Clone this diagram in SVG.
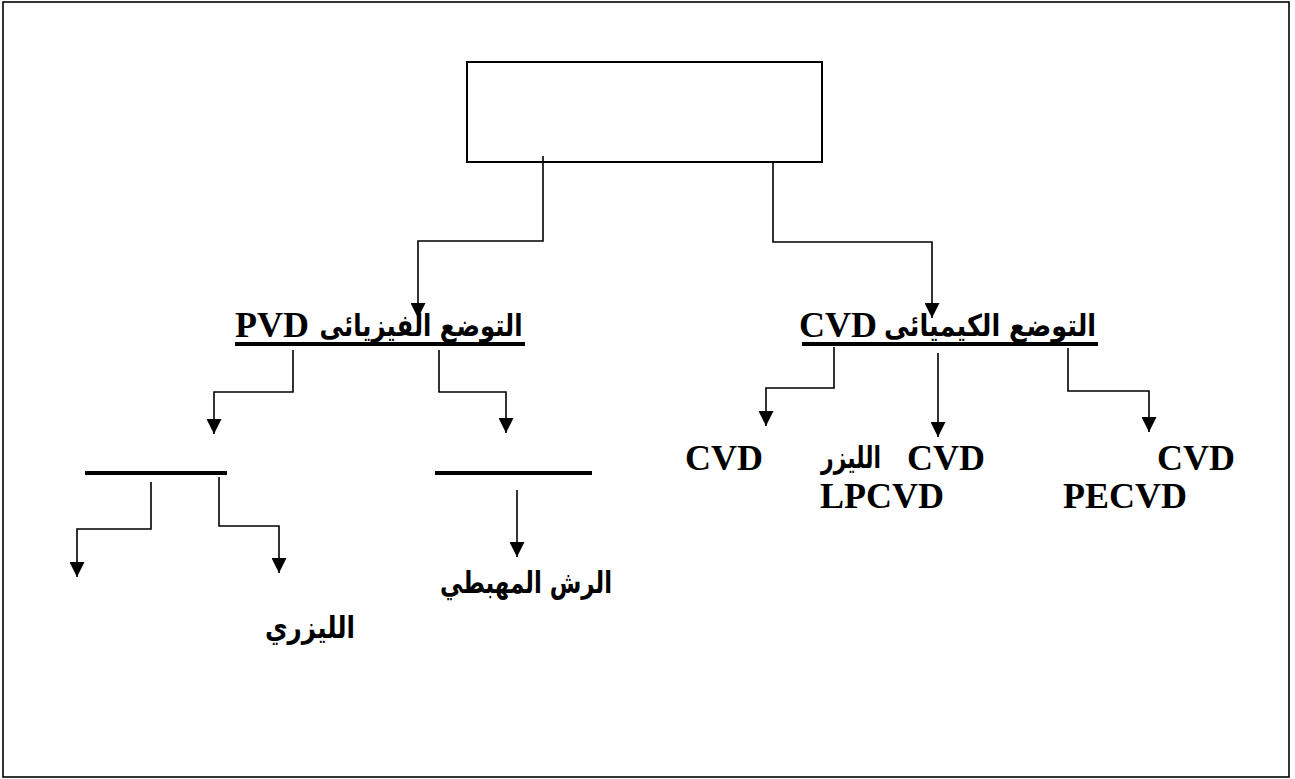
<svg xmlns="http://www.w3.org/2000/svg" width="1295" height="779" viewBox="0 0 1295 779">
<style>
.lat{font-family:"Liberation Serif","Times New Roman",serif;font-weight:bold;font-size:36px;fill:#000}
.ar{font-family:"DejaVu Sans","Liberation Serif",sans-serif;font-weight:bold;font-size:30px;fill:#000}
.con{fill:none;stroke:#000;stroke-width:1.6}
.bar{stroke:#000;stroke-width:4}
</style>
<defs>
<marker id="ah" viewBox="0 0 10 10" refX="10" refY="5" markerWidth="15" markerHeight="15" markerUnits="userSpaceOnUse" orient="auto">
<path d="M0,0 L10,5 L0,10 z" fill="#000"/>
</marker>
</defs>
<rect x="0" y="0" width="1295" height="779" fill="#fff"/>
<rect x="3" y="2" width="1286" height="775" fill="none" stroke="#000" stroke-width="1.6"/>
<g id="root">
<rect x="467" y="62" width="355" height="100" fill="#fff" stroke="#000" stroke-width="2"/>
</g>
<g id="pvd">
<line class="bar" x1="235" y1="344" x2="525" y2="344"/>
<text class="lat" x="235" y="337">PVD</text>
<text class="ar" x="421" y="336" text-anchor="middle" direction="rtl" textLength="203" lengthAdjust="spacingAndGlyphs">التوضع الفيزيائى</text>
</g>
<g id="cvd">
<line class="bar" x1="802" y1="344" x2="1098" y2="344"/>
<text class="lat" x="799" y="337">CVD</text>
<text class="ar" x="990" y="336" text-anchor="middle" direction="rtl" textLength="212" lengthAdjust="spacingAndGlyphs">التوضع الكيميائى</text>
</g>
<g id="pvd-a">
<line class="bar" x1="85" y1="473" x2="227" y2="473"/>
</g>
<g id="pvd-b">
<line class="bar" x1="435" y1="473" x2="592" y2="473"/>
</g>
<g id="cvd-1">
<text class="lat" x="685" y="470">CVD</text>
</g>
<g id="cvd-2">
<text class="ar" x="851" y="468" text-anchor="middle" direction="rtl" textLength="60" lengthAdjust="spacingAndGlyphs">الليزر</text>
<text class="lat" x="985" y="470" text-anchor="end">CVD</text>
<text class="lat" x="820" y="508">LPCVD</text>
</g>
<g id="cvd-3">
<text class="lat" x="1235" y="470" text-anchor="end">CVD</text>
<text class="lat" x="1063" y="508">PECVD</text>
</g>
<g id="sputter">
<text class="ar" x="526" y="593" text-anchor="middle" direction="rtl" textLength="172" lengthAdjust="spacingAndGlyphs">الرش المهبطي</text>
</g>
<g id="laser">
<text class="ar" x="310" y="638" text-anchor="middle" direction="rtl" textLength="90" lengthAdjust="spacingAndGlyphs">الليزري</text>
</g>
<g id="connectors">
<path class="con" marker-end="url(#ah)" d="M543,156 V241 H418 V318"/>
<path class="con" marker-end="url(#ah)" d="M773,162 V242 H932 V318"/>
<path class="con" marker-end="url(#ah)" d="M293,350 V392 H214 V434"/>
<path class="con" marker-end="url(#ah)" d="M439,350 V392 H506 V433"/>
<path class="con" marker-end="url(#ah)" d="M834,347 V388 H766 V426"/>
<path class="con" marker-end="url(#ah)" d="M938,353 V437"/>
<path class="con" marker-end="url(#ah)" d="M1068,348 V391 H1149 V432"/>
<path class="con" marker-end="url(#ah)" d="M151,482 V529 H77 V577"/>
<path class="con" marker-end="url(#ah)" d="M219,477 V526 H279 V573"/>
<path class="con" marker-end="url(#ah)" d="M517,490 V557"/>
</g>
</svg>
